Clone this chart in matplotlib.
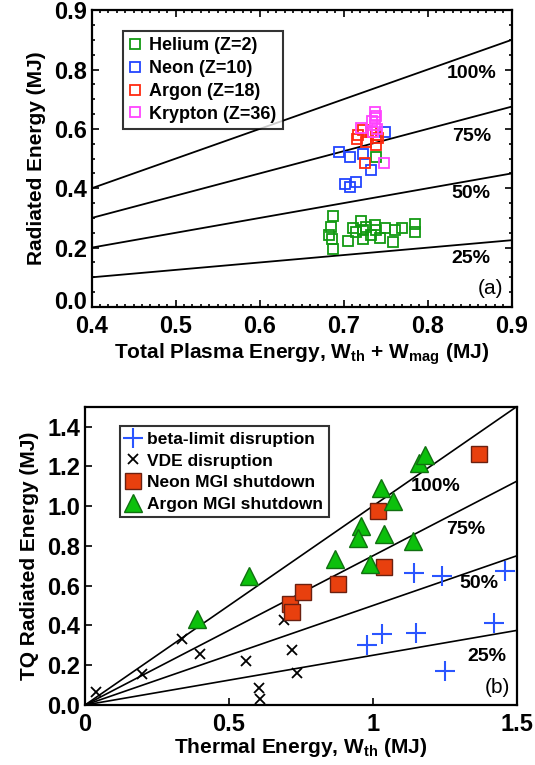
import matplotlib
matplotlib.use('Agg')
import matplotlib.pyplot as plt
from matplotlib import font_manager
from matplotlib.ticker import MultipleLocator
from matplotlib.transforms import ScaledTranslation
import numpy as np

# pick a narrow sans if it is there
fam = 'Liberation Sans'
try:
    font_manager.findfont(font_manager.FontProperties(family='Liberation Sans Narrow'),
                          fallback_to_default=False)
    fam = 'Liberation Sans Narrow'
except Exception:
    pass
plt.rcParams['font.family'] = [fam, 'DejaVu Sans']
plt.rcParams['font.weight'] = 'bold'
plt.rcParams['axes.labelweight'] = 'bold'
plt.rcParams['mathtext.fontset'] = 'custom'
plt.rcParams['mathtext.rm'] = fam + ':bold'
plt.rcParams['mathtext.default'] = 'rm'

# ---- panel (a) data ----
fractions = [1.0, 0.75, 0.5, 0.25]
frac_labels = ['100%', '75%', '50%', '25%']
a_label_y = [0.787, 0.573, 0.383, 0.164]

he_x = [0.687, 0.685, 0.683, 0.686, 0.687, 0.705, 0.711, 0.721, 0.723, 0.715, 0.737,
        0.738, 0.723, 0.733, 0.743, 0.749, 0.759, 0.761, 0.769, 0.785, 0.785, 0.727, 0.739]
he_y = [0.307, 0.270, 0.242, 0.229, 0.195, 0.222, 0.265, 0.290, 0.259, 0.254, 0.276,
        0.259, 0.229, 0.242, 0.231, 0.265, 0.220, 0.259, 0.267, 0.278, 0.254, 0.270, 0.506]
ne_x = [0.695, 0.707, 0.723, 0.749, 0.733, 0.702, 0.707, 0.715]
ne_y = [0.523, 0.504, 0.517, 0.590, 0.461, 0.416, 0.405, 0.420]
ar_x = [0.717, 0.723, 0.727, 0.739, 0.739, 0.725, 0.733, 0.716, 0.741]
ar_y = [0.579, 0.596, 0.557, 0.545, 0.580, 0.484, 0.590, 0.565, 0.570]
kr_x = [0.737, 0.737, 0.737, 0.735, 0.740, 0.721, 0.734, 0.748, 0.739]
kr_y = [0.658, 0.636, 0.613, 0.590, 0.600, 0.602, 0.625, 0.484, 0.645]

# ---- panel (b) data ----
b_label_pos = [(1.217, 1.10), (1.322, 0.883), (1.368, 0.612), (1.397, 0.242)]
beta_x = [1.145, 1.241, 1.461, 0.980, 1.032, 1.151, 1.420, 1.250]
beta_y = [0.662, 0.650, 0.675, 0.303, 0.358, 0.362, 0.412, 0.170]
vde_x = [0.038, 0.199, 0.336, 0.400, 0.560, 0.603, 0.609, 0.690, 0.721, 0.738]
vde_y = [0.067, 0.155, 0.333, 0.258, 0.220, 0.085, 0.030, 0.425, 0.278, 0.162]
neon_x = [0.711, 0.719, 0.759, 0.879, 1.018, 1.038, 1.370]
neon_y = [0.508, 0.467, 0.567, 0.608, 0.975, 0.692, 1.262]
argon_x = [0.388, 0.570, 0.870, 0.960, 0.947, 0.989, 1.030, 1.070, 1.040, 1.140, 1.159, 1.183]
argon_y = [0.433, 0.650, 0.733, 0.900, 0.842, 0.708, 1.092, 1.025, 0.858, 0.825, 1.217, 1.258]

fig = plt.figure(figsize=(5.35, 7.65), dpi=100)

# ================= (a) =================
ax1 = fig.add_axes([0.1714, 0.5987, 0.785, 0.388])
xs = np.array([0.4, 0.9])
for f in fractions:
    ax1.plot(xs, f * xs, color='black', lw=1.3)
for lab, yy in zip(frac_labels, a_label_y):
    ax1.text(0.852, yy, lab, ha='center', va='center', fontsize=14)
ax1.text(0.875, 0.063, '(a)', ha='center', va='center', fontsize=15, weight='normal')

sq = dict(marker='s', ls='none', mfc='none', ms=7.5, mew=1.3)
ax1.plot(he_x, he_y, mec='#129a12', label='Helium (Z=2)', **sq)
ax1.plot(ne_x, ne_y, mec='#2244ff', label='Neon (Z=10)', **sq)
ax1.plot(ar_x, ar_y, mec='#ff2a10', label='Argon (Z=18)', **sq)
ax1.plot(kr_x, kr_y, mec='#ff44ff', label='Krypton (Z=36)', **sq)

ax1.set_xlim(0.4, 0.9)
ax1.set_ylim(0, 1.0)
ax1.set_xticks([0.4, 0.5, 0.6, 0.7, 0.8, 0.9])
ax1.set_xticklabels(['0.4', '0.5', '0.6', '0.7', '0.8', '0.9'])
ax1.set_yticks([0.0, 0.2, 0.4, 0.6, 0.8, 1.0])
ax1.set_yticklabels(['0.0', '0.2', '0.4', '0.6', '0.8', '0.9'])
ax1.xaxis.set_minor_locator(MultipleLocator(0.01))
ax1.yaxis.set_minor_locator(MultipleLocator(0.05))
ax1.tick_params(which='both', direction='in', top=True, right=True, labelsize=17, width=1.2)
ax1.tick_params(which='major', length=5)
ax1.tick_params(which='minor', length=2.5)
ax1.tick_params(axis='x', pad=6)
# the bottom y label sits a bit higher in the original
lbl0 = ax1.get_yticklabels()[0]
lbl0.set_transform(lbl0.get_transform() + ScaledTranslation(0, 7 / 100, fig.dpi_scale_trans))
ax1.set_xlabel(r'Total Plasma Energy, W$_{th}$ + W$_{mag}$ (MJ)', fontsize=15, labelpad=2)
ax1.set_ylabel('Radiated Energy (MJ)', fontsize=15, labelpad=6)
for s in ax1.spines.values():
    s.set_linewidth(1.6)
leg1 = ax1.legend(loc='upper left', bbox_to_anchor=(0.053, 0.96), fontsize=13,
                  frameon=True, fancybox=False, edgecolor='black', handlelength=0.6,
                  handletextpad=0.5, borderpad=0.35, labelspacing=0.32)
leg1.get_frame().set_linewidth(1.5)

# ================= (b) =================
ax2 = fig.add_axes([0.1589, 0.0784, 0.8068, 0.39])
xb = np.array([0.0, 1.5])
for f in fractions:
    ax2.plot(xb, f * xb, color='black', lw=1.2)
for lab, (xx, yy) in zip(frac_labels, b_label_pos):
    ax2.text(xx, yy, lab, ha='center', va='center', fontsize=14)
ax2.text(1.432, 0.09, '(b)', ha='center', va='center', fontsize=15, weight='normal')

ax2.plot(beta_x, beta_y, ls='none', marker='+', ms=14, mew=1.5, color='#2a55ff',
         label='beta-limit disruption')
ax2.plot(vde_x, vde_y, ls='none', marker='x', ms=7, mew=1.3, color='black',
         label='VDE disruption')
ax2.plot(neon_x, neon_y, ls='none', marker='s', ms=12, mew=1.0, mfc='#e8400e',
         mec='#6a2010', label='Neon MGI shutdown')
ax2.plot(argon_x, argon_y, ls='none', marker='^', ms=13, mew=1.0, mfc='#0cc00c',
         mec='#107010', label='Argon MGI shutdown')

ax2.set_xlim(0, 1.5)
ax2.set_ylim(0, 1.5)
ax2.set_xticks([0, 0.5, 1.0, 1.5])
ax2.set_xticklabels(['0', '0.5', '1', '1.5'])
ax2.set_yticks([0.0, 0.2, 0.4, 0.6, 0.8, 1.0, 1.2, 1.4])
ax2.set_yticklabels(['0.0', '0.2', '0.4', '0.6', '0.8', '1.0', '1.2', '1.4'])
ax2.tick_params(direction='in', labelsize=17, length=5, width=1.2)
ax2.tick_params(axis='x', pad=6)
ax2.set_xlabel(r'Thermal Energy, W$_{th}$ (MJ)', fontsize=15, labelpad=0)
ax2.set_ylabel('TQ Radiated Energy (MJ)', fontsize=15, labelpad=6)
for s in ax2.spines.values():
    s.set_linewidth(1.6)
leg2 = ax2.legend(loc='upper left', bbox_to_anchor=(0.06, 0.963), fontsize=12.5,
                  frameon=True, fancybox=False, edgecolor='black', handlelength=1.0,
                  handletextpad=0.3, borderpad=0.3, labelspacing=0.38)
leg2.get_frame().set_linewidth(1.5)

fig.savefig('out.png', dpi=100)
